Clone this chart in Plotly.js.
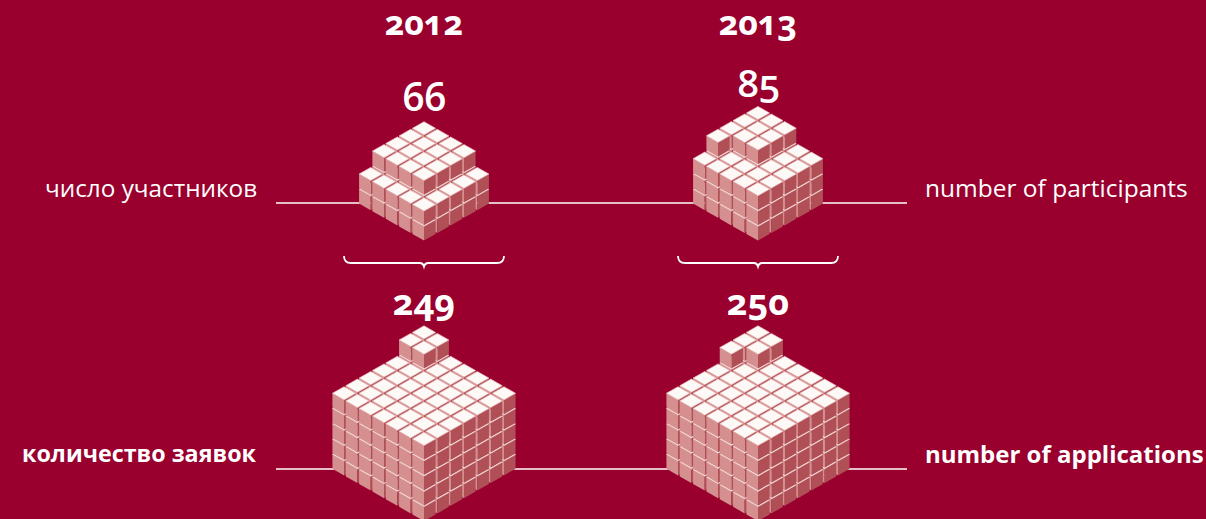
<!DOCTYPE html>
<html>
<head>
<meta charset="utf-8">
<script src="https://cdn.plot.ly/plotly-3.0.1.min.js"></script>
<style>
  html, body { margin: 0; padding: 0; background: #99002e; }
  #chart { width: 1206px; height: 519px; }
  .annotation text { font-feature-settings: "onum" 1, "lnum" 0; font-variant-numeric: oldstyle-nums; }
</style>
</head>
<body>
<div id="chart"></div>
<script>
// Participants and applications per competition year, each unit shown as one cube.
const years = ["2012", "2013"];
const participants = [66, 85];
const applications = [249, 250];
const participantLabels = ["число участников", "number of participants"];
const applicationLabels = ["количество заявок", "number of applications"];

const BG = "#99002e";
const TOP = "#fdf9f7";
const TOP_EDGE = "#e8baba";
const LEFT = "#d48f8e";
const RIGHT = "#b04f56";
const FONT = "'Open Sans', sans-serif";

// Isometric projection: pitch between cube origins and the visible size of a cube.
const PITCH = { x: 13.33, y: 7.6, z: 15.3 };
const SIZE = { x: 11.6, y: 6.6, z: 14.3 };

// Stacks fill whole layers of side*side, the remainder forms a square at the back corner.
function cubeCells(total, side) {
  const cells = [];
  const full = Math.floor(total / (side * side));
  for (let l = 0; l < full; l++)
    for (let a = 0; a < side; a++)
      for (let b = 0; b < side; b++) cells.push({ a, b, l });
  let rest = total - full * side * side;
  const k = Math.floor(Math.sqrt(rest));
  for (let a = 0; a < k; a++)
    for (let b = 0; b < k; b++) cells.push({ a, b, l: full });
  rest -= k * k;
  for (let i = 0; i < rest; i++) cells.push({ a: i < k + 1 ? 0 : i - k, b: k, l: full });
  return cells;
}

function polyPush(trace, pts) {
  pts.forEach(p => { trace.x.push(p[0]); trace.y.push(p[1]); });
  trace.x.push(pts[0][0], null);
  trace.y.push(pts[0][1], null);
}

function faceTrace(color, edge) {
  return { type: "scatter", mode: "lines", x: [], y: [], fill: "toself", fillcolor: color,
    line: edge ? { width: 0.7, color: edge } : { width: 0, color: color },
    hoverinfo: "skip", showlegend: false };
}

// One group of traces per depth step, so nearer cubes paint over farther ones.
function stackTraces(total, side, cx, baseY) {
  const groups = new Map();
  cubeCells(total, side).forEach(c => {
    const key = c.l * 100 + c.a + c.b;
    if (!groups.has(key)) groups.set(key, { left: faceTrace(LEFT), right: faceTrace(RIGHT), top: faceTrace(TOP, TOP_EDGE) });
    const g = groups.get(key);
    const x = cx + (c.a - c.b) * PITCH.x;
    const y = baseY + (c.a + c.b) * PITCH.y - c.l * PITCH.z;
    const s = SIZE;
    polyPush(g.top, [[x, y], [x + s.x, y + s.y], [x, y + 2 * s.y], [x - s.x, y + s.y]]);
    polyPush(g.left, [[x - s.x, y + s.y], [x, y + 2 * s.y], [x, y + 2 * s.y + s.z], [x - s.x, y + s.y + s.z]]);
    polyPush(g.right, [[x + s.x, y + s.y], [x, y + 2 * s.y], [x, y + 2 * s.y + s.z], [x + s.x, y + s.y + s.z]]);
  });
  const out = [];
  [...groups.keys()].sort((p, q) => p - q).forEach(k => {
    const g = groups.get(k);
    out.push(g.left, g.right, g.top);
  });
  return out;
}

const columnX = [424, 758];
const rowRule = [203, 469];
const rowBase = [152.3, 402.3];
const rowSide = [5, 7];

const rules = rowRule.map(y => ({
  type: "scatter", mode: "lines", x: [276, 907], y: [y, y],
  line: { color: "#ffffff", width: 1.5 }, hoverinfo: "skip", showlegend: false
}));

const traces = [...rules];
[participants, applications].forEach((row, r) => {
  row.forEach((v, i) => traces.push(...stackTraces(v, rowSide[r], columnX[i], rowBase[r])));
});

function text(str, x, y, size, weight, anchor) {
  return { text: str, x, y, xref: "x", yref: "y", showarrow: false,
    xanchor: anchor || "center", yanchor: "middle",
    font: { family: FONT, size, color: "#ffffff", weight } };
}

const annotations = [
  text(years[0], columnX[0], 22, 34, 700),
  text(years[1], columnX[1], 22, 34, 700),
  text(String(participants[0]), columnX[0], 95, 39, 600),
  text(String(participants[1]), columnX[1], 82, 38, 600),
  text(String(applications[0]), columnX[0], 301, 36, 700),
  text(String(applications[1]), columnX[1], 301, 36, 700),
  text(participantLabels[0], 259, 187, 24.3, 400, "right"),
  text(participantLabels[1], 923, 187, 24.5, 400, "left"),
  text(applicationLabels[0], 259, 453, 23.3, 700, "right"),
  text(applicationLabels[1], 923, 453, 24, 700, "left")
];

// Curly brace under the participant stacks, spanning the footprint of each stack.
function bracePath(cx) {
  const L = cx - 80, R = cx + 80, T = 256, Y = 263;
  return `M ${L} ${T} Q ${L} ${Y} ${L + 7} ${Y} L ${cx - 4} ${Y} Q ${cx - 1} ${Y} ${cx} ${Y + 3.5} ` +
         `Q ${cx + 1} ${Y} ${cx + 4} ${Y} L ${R - 7} ${Y} Q ${R} ${Y} ${R} ${T}`;
}

const layout = {
  width: 1206, height: 519,
  margin: { l: 0, r: 0, t: 0, b: 0 },
  paper_bgcolor: BG, plot_bgcolor: BG,
  showlegend: false,
  xaxis: { range: [0, 1206], visible: false, fixedrange: true },
  yaxis: { range: [519, 0], visible: false, fixedrange: true },
  annotations,
  shapes: columnX.map(cx => ({
    type: "path", xref: "x", yref: "y", path: bracePath(cx),
    line: { color: "#ffffff", width: 1.8 }, fillcolor: "rgba(0,0,0,0)"
  }))
};

Plotly.newPlot("chart", traces, layout, { displayModeBar: false, staticPlot: true });
</script>
</body>
</html>
